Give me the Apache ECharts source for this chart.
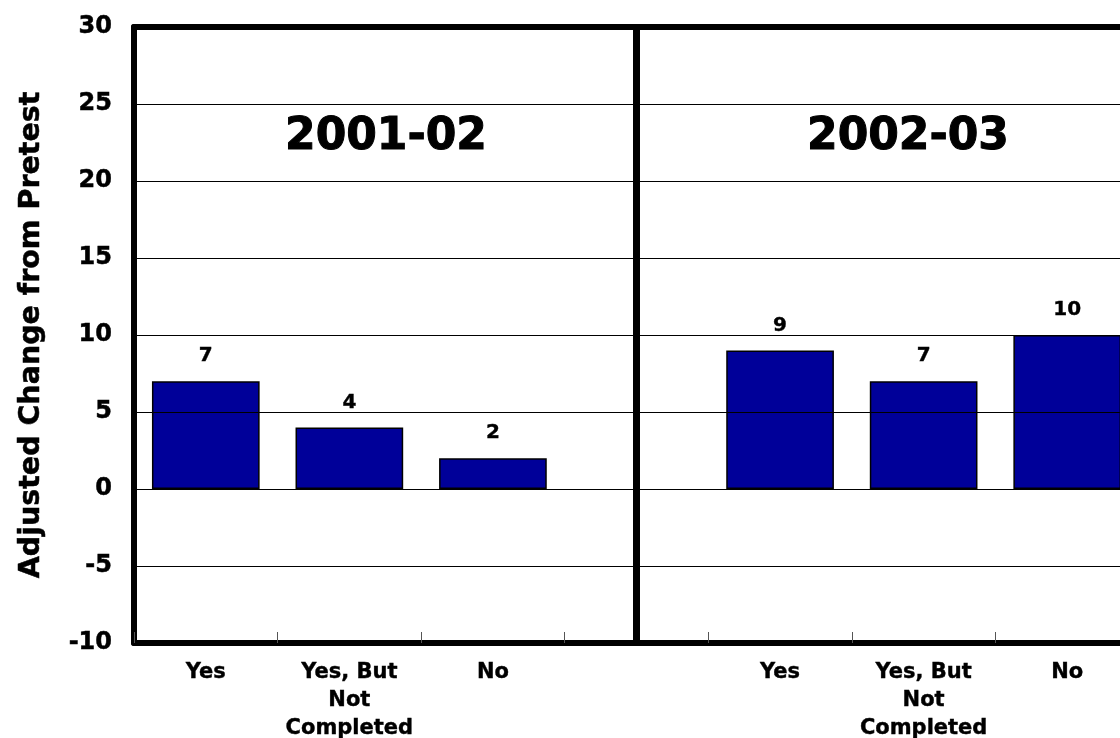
<!DOCTYPE html>
<html>
<head>
<meta charset="utf-8">
<script src="https://cdn.jsdelivr.net/npm/echarts@6/dist/echarts.min.js"></script>
<style>
  html, body { margin: 0; padding: 0; background: #ffffff; overflow: hidden; }
  /* The plot runs slightly past the right edge of the page */
  #chart { width: 1141px; height: 738px; }
</style>
</head>
<body>
<div id="chart"></div>
<script>
// Response categories, shown once per school year
const responses = ['Yes', 'Yes, But\nNot\nCompleted', 'No'];
// School years, one panel each
const years = ['2001-02', '2002-03'];
// Adjusted change from pretest, per response
const change2001 = [7, 4, 2];
const change2002 = [9, 7, 10];
// Value axis ticks
const yMin = -10;
const yMax = 30;
const yStep = 5;

const FONT = 'DejaVu Sans';
const heavy = (size, stroke) => ({
  fontFamily: FONT, fontWeight: 'bold', fontSize: size, color: '#000',
  textBorderColor: '#000', textBorderWidth: stroke
});

// One category axis holding both panels, with an empty slot between them
const axisCategories = [...responses, '', ...responses];
const barValues = [...change2001, null, ...change2002];
const dividerIndex = responses.length;

const chart = echarts.init(document.getElementById('chart'), null, { renderer: 'canvas' });

chart.setOption({
  backgroundColor: '#ffffff',
  animation: false,
  title: [
    { text: years[0], left: 386, top: 116, padding: 0, textAlign: 'center', textStyle: heavy(44, 1) },
    { text: years[1], left: 908, top: 116, padding: 0, textAlign: 'center', textStyle: heavy(44, 1) }
  ],
  grid: { left: 134, top: 27, right: 2, bottom: 95, containLabel: false, outerBoundsMode: 'none' },
  xAxis: [
    {
      type: 'category',
      data: axisCategories,
      position: 'bottom',
      boundaryGap: true,
      z: 5,
      axisLine: { show: true, onZero: false, lineStyle: { color: '#000', width: 6 } },
      axisTick: { show: true, inside: true, length: 11, lineStyle: { color: '#555', width: 1 } },
      axisLabel: Object.assign({ interval: 0, margin: 16, lineHeight: 28, align: 'center' }, heavy(21, 0.4)),
      splitLine: { show: false }
    },
    {
      type: 'category',
      data: axisCategories,
      position: 'top',
      z: 5,
      axisLine: { show: true, onZero: false, lineStyle: { color: '#000', width: 6 } },
      axisTick: { show: false },
      axisLabel: { show: false },
      splitLine: { show: false }
    }
  ],
  yAxis: {
    type: 'value',
    min: yMin, max: yMax, interval: yStep,
    z: 4,
    name: 'Adjusted Change from Pretest',
    nameLocation: 'middle',
    nameRotate: 90,
    nameGap: 88,
    nameTextStyle: heavy(28.5, 0.5),
    axisLine: { show: true, lineStyle: { color: '#000', width: 6 } },
    axisTick: { show: false },
    axisLabel: Object.assign({ margin: 22 }, heavy(24, 0.5)),
    splitLine: { show: true, lineStyle: { color: '#000', width: 1 } }
  },
  series: [
    {
      type: 'bar',
      data: barValues,
      barCategoryGap: '25%',
      itemStyle: { color: '#000099', borderColor: '#000', borderWidth: 1.5 },
      label: Object.assign({ show: true, position: 'top', distance: 15 }, heavy(20, 0.4)),
      markLine: {
        silent: true,
        symbol: ['none', 'none'],
        label: { show: false },
        lineStyle: { color: '#000', width: 7, type: 'solid' },
        data: [{ xAxis: dividerIndex }]
      }
    }
  ]
});
</script>
</body>
</html>
